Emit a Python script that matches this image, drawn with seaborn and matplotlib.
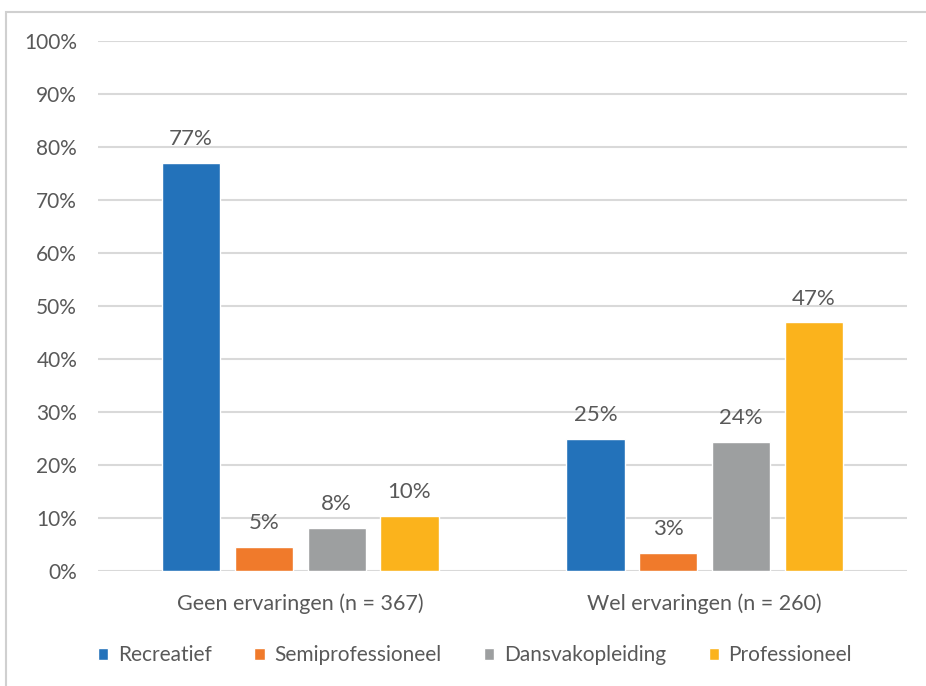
import pandas as pd
import matplotlib.pyplot as plt
import seaborn as sns
from matplotlib.patches import Rectangle

groups = ["Geen ervaringen (n = 367)", "Wel ervaringen (n = 260)"]
levels = ["Recreatief", "Semiprofessioneel", "Dansvakopleiding", "Professioneel"]
geen = [77.0, 4.6, 8.2, 10.4]
wel = [24.9, 3.4, 24.3, 46.9]
labels_geen = ["77%", "5%", "8%", "10%"]
labels_wel = ["25%", "3%", "24%", "47%"]

colors = ["#2372BA", "#F07A2B", "#9D9FA0", "#FBB31C"]

df = pd.DataFrame({
    "groep": [groups[0]] * 4 + [groups[1]] * 4,
    "niveau": levels * 2,
    "pct": geen + wel,
    "label": labels_geen + labels_wel,
})

sns.set_style("white")
plt.rcParams["font.family"] = ["Lato", "DejaVu Sans"]
txt = "#595959"
fs = 15

fig = plt.figure(figsize=(9.26, 6.86), dpi=100)
ax = fig.add_axes([98 / 926, 1 - 571 / 686, 809 / 926, 530 / 686])

sns.barplot(data=df, x="groep", y="pct", hue="niveau", hue_order=levels,
            palette=colors, width=0.72, gap=0.2, saturation=1, ax=ax,
            legend=True)

# data labels
for cont, lev in zip(ax.containers, levels):
    labs = [df[(df.niveau == lev) & (df.groep == g)]["label"].iloc[0] for g in groups]
    ax.bar_label(cont, labels=labs, padding=10, fontsize=16, color=txt)

ax.set_ylim(0, 100)
ax.set_xlim(-0.5, 1.5)
ax.set_yticks(range(0, 101, 10))
ax.set_yticklabels([f"{v}%" for v in range(0, 101, 10)], fontsize=fs, color=txt)
ax.tick_params(axis="x", labelsize=fs + 0.5, labelcolor=txt, length=0, pad=16)
ax.tick_params(axis="y", length=0, pad=15)
ax.yaxis.grid(True, color="#D9D9D9", linewidth=1.5)
ax.set_axisbelow(True)
for s in ax.spines.values():
    s.set_visible(False)
ax.set_xlabel("")
ax.set_ylabel("")

leg = ax.legend(loc="center", bbox_to_anchor=(377 / 809, -84 / 530), ncol=4,
                frameon=False, fontsize=fs, handlelength=0.5, handleheight=0.5,
                handletextpad=0.45, columnspacing=2.05)
for t in leg.get_texts():
    t.set_color(txt)

# chart border
fig.patches.append(Rectangle((6 / 926, -0.01), 1.0, 1 - 12 / 686 + 0.01,
                             transform=fig.transFigure, fill=False,
                             edgecolor="#D0D0D0", linewidth=1.5))

fig.savefig("out.png", dpi=100)
